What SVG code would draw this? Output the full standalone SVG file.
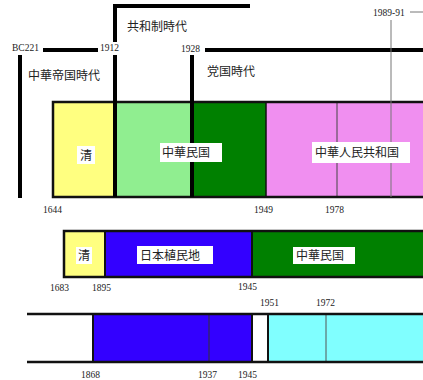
<svg xmlns="http://www.w3.org/2000/svg" width="423" height="380" viewBox="0 0 423 380">
<style>
.yr{font-family:"Liberation Serif",serif;font-size:9.5px;fill:#222}
.lb{font-family:"Noto Sans CJK JP","Noto Sans CJK SC",sans-serif;font-size:12px;fill:#222}
.tl{font-family:"Noto Sans CJK JP","Noto Sans CJK SC",sans-serif;font-size:12px;fill:#222}
.bd{stroke:#111;stroke-width:2.5;fill:none}
.thick{stroke:#000;stroke-width:4;fill:none}
</style>
<rect width="423" height="380" fill="#fff"/>
<g id="row1">
<rect x="53" y="102" width="62" height="95" fill="#FFFF80"/>
<rect x="115" y="102" width="77" height="95" fill="#90EE90"/>
<rect x="192" y="102" width="74" height="95" fill="#008000"/>
<rect x="266" y="102" width="157" height="95" fill="#F08FF0"/>
<line x1="337" y1="102" x2="337" y2="197" stroke="#444" stroke-width="1"/>
<path class="bd" d="M423 102H53V197H423"/>
<line x1="266" y1="102" x2="266" y2="197" stroke="#111" stroke-width="1.5"/>
</g>
<g id="row2">
<rect x="64" y="231" width="41" height="46" fill="#FFFF80"/>
<rect x="105" y="231" width="147" height="46" fill="#3300FF"/>
<rect x="252" y="231" width="171" height="46" fill="#008000"/>
<path class="bd" d="M423 231H64V277H423"/>
<line x1="105" y1="231" x2="105" y2="277" stroke="#111" stroke-width="2"/>
<line x1="252" y1="231" x2="252" y2="277" stroke="#111" stroke-width="2"/>
</g>
<g id="row3">
<rect x="93" y="314" width="159" height="48" fill="#3300FF"/>
<rect x="268" y="314" width="155" height="48" fill="#80FFFF"/>
<line x1="209" y1="314" x2="209" y2="362" stroke="#333" stroke-width="1"/>
<line x1="326" y1="314" x2="326" y2="362" stroke="#555" stroke-width="1"/>
<path class="bd" d="M27 314H423M27 362H423"/>
<line x1="93" y1="314" x2="93" y2="362" stroke="#111" stroke-width="2"/>
<line x1="252" y1="314" x2="252" y2="362" stroke="#111" stroke-width="2"/>
<line x1="268" y1="314" x2="268" y2="362" stroke="#111" stroke-width="2"/>
</g>
<g id="connectors">
<line class="thick" x1="43" y1="50" x2="98" y2="50"/>
<path class="thick" d="M115 42V6H250"/>
<line class="thick" x1="115" y1="55" x2="115" y2="197"/>
<line class="thick" x1="205" y1="50" x2="423" y2="50"/>
<line class="thick" x1="192" y1="55" x2="192" y2="197"/>
<line class="thick" x1="20" y1="55" x2="20" y2="198"/>
<line x1="391" y1="20" x2="391" y2="197" stroke="#777" stroke-width="1"/>
<line x1="410" y1="12" x2="423" y2="12" stroke="#777" stroke-width="1"/>
</g>
<g id="labels">
<text class="yr" x="12" y="51">BC221</text>
<text class="yr" x="100" y="51">1912</text>
<text class="yr" x="181" y="52">1928</text>
<text class="yr" x="373" y="16">1989-91</text>
<text class="tl" x="127" y="31">共和制時代</text>
<text class="tl" x="28" y="80">中華帝国時代</text>
<text class="tl" x="207" y="76">党国時代</text>
<rect x="77" y="146" width="18" height="18" fill="#fff"/>
<text class="lb" x="80" y="160">清</text>
<rect x="160" y="143" width="62" height="19" fill="#fff"/>
<text class="lb" x="162" y="157">中華民国</text>
<rect x="312" y="142" width="98" height="21" fill="#fff"/>
<text class="lb" x="315" y="157">中華人民共和国</text>
<text class="yr" x="43" y="213">1644</text>
<text class="yr" x="254" y="213">1949</text>
<text class="yr" x="325" y="213">1978</text>
<rect x="76" y="247" width="16" height="17" fill="#fff"/>
<text class="lb" x="78" y="260">清</text>
<rect x="137" y="246" width="76" height="18" fill="#fff"/>
<text class="lb" x="140" y="260">日本植民地</text>
<rect x="293" y="247" width="62" height="17" fill="#fff"/>
<text class="lb" x="296" y="260">中華民国</text>
<text class="yr" x="50" y="291">1683</text>
<text class="yr" x="92" y="291">1895</text>
<text class="yr" x="238" y="290">1945</text>
<text class="yr" x="260" y="306">1951</text>
<text class="yr" x="316" y="306">1972</text>
<text class="yr" x="81" y="378">1868</text>
<text class="yr" x="198" y="378">1937</text>
<text class="yr" x="238" y="378">1945</text>
</g>
</svg>
